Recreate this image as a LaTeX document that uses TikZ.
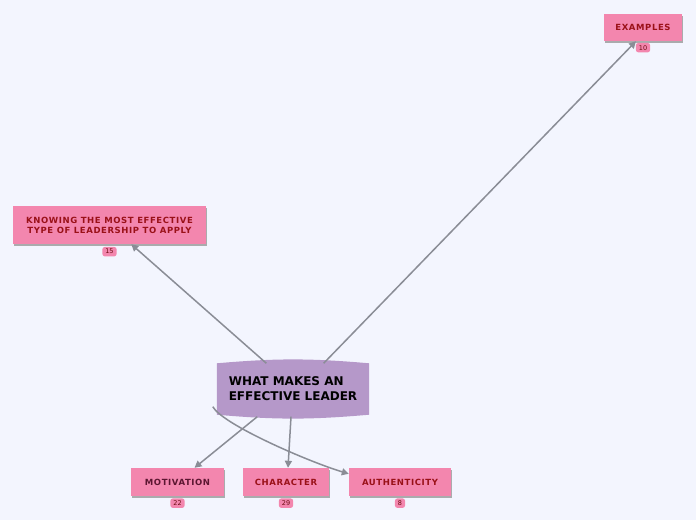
\documentclass[tikz,border=0pt]{standalone}
\usepackage{fontspec}
\setmainfont{DejaVu Sans}
\usepackage{xcolor}
\usetikzlibrary{arrows.meta}
\usetikzlibrary{positioning, shadows}
\pgfdeclarelayer{background}
\pgfsetlayers{background,main}

\definecolor{pagebg}{HTML}{F3F5FE}
\definecolor{leadfill}{HTML}{B598C9}
\definecolor{topicfill}{HTML}{F386AE}
\definecolor{topictext}{HTML}{9A1118}
\definecolor{mottext}{HTML}{5C1631}
\definecolor{linkgray}{HTML}{8A8D96}

\tikzset{
  topic/.style={fill=topicfill, minimum height=28pt, inner xsep=6pt,
    font=\fontsize{8.5}{10}\selectfont\bfseries\addfontfeature{LetterSpace=7},
    text=topictext, align=center,
    drop shadow={shadow xshift=0.5pt, shadow yshift=-1.5pt, fill=black!45, opacity=0.7}},
  badge/.style={fill=topicfill, rounded corners=2.5pt, inner xsep=3pt, inner ysep=1pt,
    minimum height=9.5pt, minimum width=9pt,
    font=\fontsize{6.5}{7}\selectfont, text=topictext!70!black},
  link/.style={draw=linkgray, line width=1.5pt, -{Triangle[width=7pt,length=7pt]}}
}

\begin{document}
\begin{tikzpicture}[x=1pt,y=-1pt]
    \begin{pgfonlayer}{background}
      \fill[pagebg] (0,0) rectangle (696,520);
    \end{pgfonlayer}
    \useasboundingbox (0,0) rectangle (696,520);

    % CENTRAL TOPIC
    \node[minimum width=152pt, minimum height=51pt, align=left,
      font=\fontsize{12}{15}\selectfont\bfseries] (lead) at (293,389)
      {WHAT MAKES AN\\EFFECTIVE LEADER};
    \begin{pgfonlayer}{background}
      \fill[leadfill] (lead.south west) -- (lead.north west) to[bend left=5] (lead.north east)
        -- (lead.south east) to[bend left=5] (lead.south west) -- cycle;
    \end{pgfonlayer}

    % TOPICS
    \node[topic, minimum width=78pt, minimum height=27pt] (ex) at (643,27.5) {EXAMPLES};
    \node[topic, minimum width=193pt, minimum height=38pt] (kn) at (109.5,225)
      {KNOWING THE MOST EFFECTIVE\\TYPE OF LEADERSHIP TO APPLY};
    \node[topic, minimum width=93pt, text=mottext] (mot) at (177.5,482) {MOTIVATION};
    \node[topic, minimum width=86pt] (ch) at (286,482) {CHARACTER};
    \node[topic, minimum width=102pt] (au) at (400,482) {AUTHENTICITY};

    % COUNTS
    \node[badge, below=1.5pt of ex] {10};
    \node[badge, below=2.5pt of kn] {15};
    \node[badge, below=2pt of mot] {22};
    \node[badge, below=2pt of ch] {29};
    \node[badge, below=2pt of au] {8};

    % LINKS
    \draw[link] (lead.40) -- ([xshift=-7pt]ex.south);
    \draw[link] (lead.136) -- (kn);
    \draw[link] ([xshift=-4pt,yshift=-2pt]lead.219) -- ([xshift=17pt]mot.north);
    \draw[link] ([xshift=-2pt,yshift=-2pt]lead.south) -- ([xshift=2pt]ch.north);
    \draw[link] ([xshift=-4pt,yshift=8pt]lead.south west) .. controls +(10,18) and +(-40,-12) .. ([yshift=-6pt]au.north west);
\end{tikzpicture}
\end{document}
